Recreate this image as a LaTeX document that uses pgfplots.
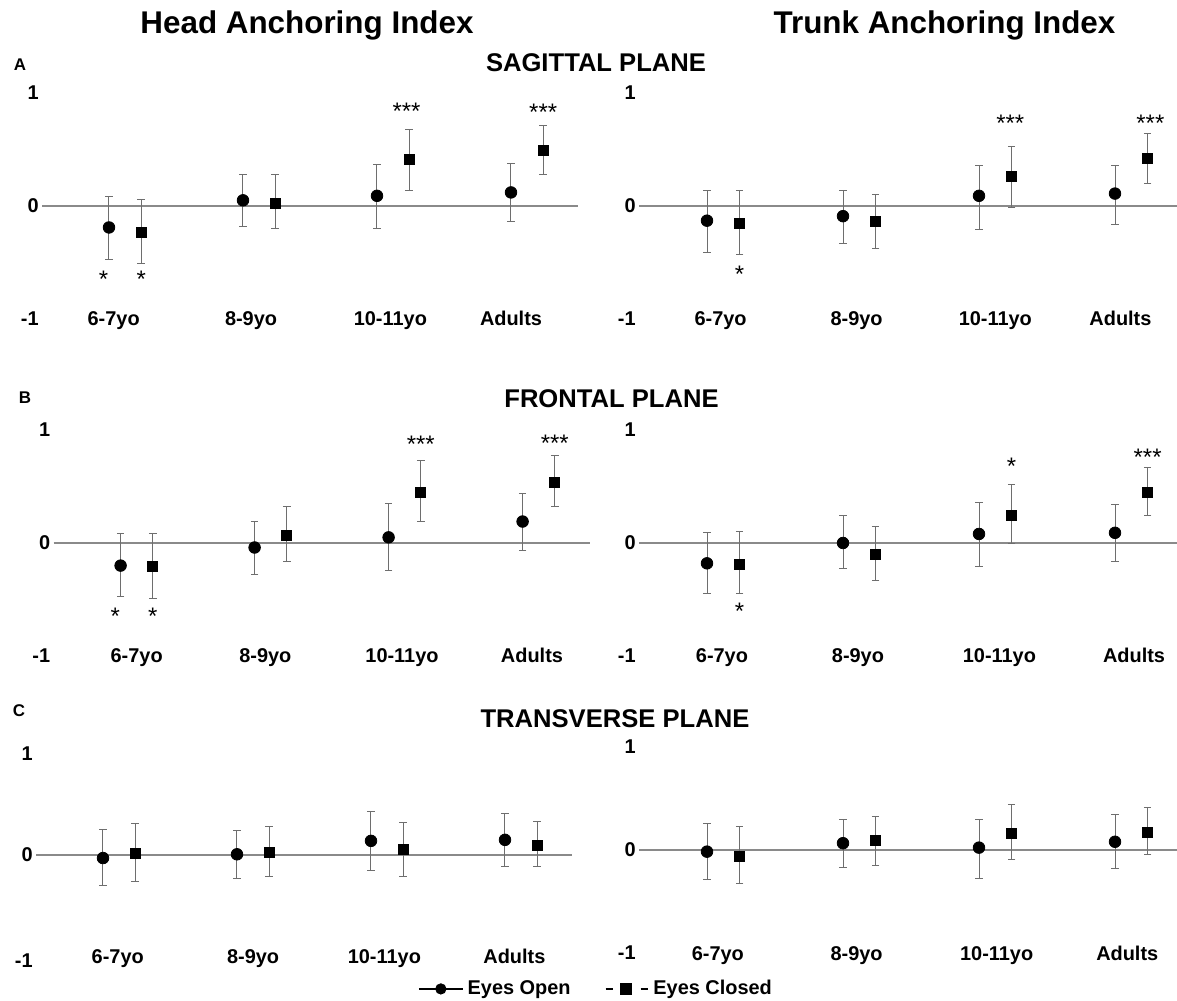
\documentclass[border=0pt]{standalone}
\usepackage{pgfplots}
\pgfplotsset{compat=1.18}
\usepackage{pgfplotstable}
\usepackage{fontspec}
\setmainfont{Liberation Sans}
\definecolor{errgray}{HTML}{6E6E6E}
\definecolor{zerogray}{HTML}{8A8A8A}

% columns: x position, mean, lower end, upper end of error bar
\pgfplotstableread{
x y lo hi
1 -0.19 -0.47 0.08
2 0.05 -0.18 0.28
3 0.09 -0.20 0.37
4 0.12 -0.14 0.38
}\ALo
\pgfplotstableread{
x y lo hi
1.24 -0.23 -0.51 0.06
2.24 0.02 -0.20 0.28
3.24 0.41 0.14 0.68
4.24 0.49 0.28 0.71
}\ALc
\pgfplotstableread{
x y lo hi
1 -0.13 -0.41 0.135
2 -0.09 -0.33 0.135
3 0.09 -0.21 0.36
4 0.11 -0.16 0.36
}\ARo
\pgfplotstableread{
x y lo hi
1.24 -0.15 -0.43 0.135
2.24 -0.14 -0.38 0.10
3.24 0.26 -0.01 0.53
4.24 0.42 0.20 0.64
}\ARc
\pgfplotstableread{
x y lo hi
1 -0.20 -0.47 0.08
2 -0.04 -0.28 0.19
3 0.05 -0.24 0.35
4 0.19 -0.07 0.44
}\BLo
\pgfplotstableread{
x y lo hi
1.24 -0.21 -0.49 0.08
2.24 0.07 -0.16 0.32
3.24 0.45 0.19 0.73
4.24 0.54 0.32 0.77
}\BLc
\pgfplotstableread{
x y lo hi
1 -0.18 -0.45 0.09
2 0.00 -0.23 0.24
3 0.08 -0.21 0.36
4 0.09 -0.16 0.34
}\BRo
\pgfplotstableread{
x y lo hi
1.24 -0.19 -0.45 0.10
2.24 -0.10 -0.33 0.15
3.24 0.245 -0.005 0.52
4.24 0.45 0.24 0.67
}\BRc
\pgfplotstableread{
x y lo hi
1 -0.03 -0.30 0.25
2 0.007 -0.23 0.24
3 0.14 -0.15 0.43
4 0.15 -0.11 0.41
}\CLo
\pgfplotstableread{
x y lo hi
1.24 0.016 -0.26 0.31
2.24 0.03 -0.21 0.28
3.24 0.056 -0.21 0.32
4.24 0.10 -0.11 0.33
}\CLc
\pgfplotstableread{
x y lo hi
1 -0.016 -0.29 0.26
2 0.066 -0.17 0.30
3 0.023 -0.275 0.30
4 0.08 -0.18 0.34
}\CRo
\pgfplotstableread{
x y lo hi
1.24 -0.06 -0.33 0.23
2.24 0.09 -0.15 0.33
3.24 0.16 -0.09 0.44
4.24 0.17 -0.046 0.41
}\CRc

\tikzset{sig/.style={font=\fontsize{12}{14}\selectfont, inner sep=0pt, yshift=-0.6bp}}
\pgfplotsset{
  panel/.style={
    scale only axis, clip=false, anchor=south west,
    xmin=0.5, xmax=4.5, ymin=-1, ymax=1,
    axis line style={draw=none},
    tick style={draw=none}, major tick length=0pt,
    ytick={-1,0,1}, yticklabels={-1,0,1},
    xticklabels={6-7yo,8-9yo,10-11yo,Adults},
    ticklabel style={font=\bfseries\fontsize{10}{12}\selectfont},
    xticklabel style={anchor=base, yshift=-3.5bp},
    yticklabel style={anchor=east, inner sep=0pt, xshift=-1.5bp},
  },
  ebar/.style={
    /pgfplots/error bars/y dir=both, /pgfplots/error bars/y explicit,
    /pgfplots/error bars/error bar style={line width=0.5bp, errgray},
    /pgfplots/error bars/error mark options={rotate=90, mark size=1.9bp, line width=0.5bp, errgray},
  },
  circ/.style={only marks, mark=*, mark size=2.9bp, black, ebar},
  sqr/.style={only marks, mark=square*, mark size=2.5bp, black, ebar},
  zl/.style={draw=zerogray, line width=0.75bp, forget plot},
}
\newcommand{\pts}[2]{%
  \addplot[zl] coordinates {(0.5,0) (4.5,0)};
  \addplot[forget plot, circ] table[x=x, y=y, y error plus expr=\thisrow{hi}-\thisrow{y}, y error minus expr=\thisrow{y}-\thisrow{lo}] {#1};
  \addplot[forget plot, sqr] table[x=x, y=y, y error plus expr=\thisrow{hi}-\thisrow{y}, y error minus expr=\thisrow{y}-\thisrow{lo}] {#2};
}

\begin{document}
\begin{tikzpicture}
\useasboundingbox (0,0) rectangle (588.5bp,500.5bp);

% column titles
\node[anchor=base, font=\bfseries\fontsize{15.75}{18}\selectfont] at (153.5bp,483.85bp) {Head Anchoring Index};
\node[anchor=base, font=\bfseries\fontsize{15.75}{18}\selectfont] at (472.25bp,483.85bp) {Trunk Anchoring Index};
% row titles
\node[anchor=base, font=\bfseries\fontsize{8.5}{10}\selectfont] at (10bp,465bp) {A};
\node[anchor=base, font=\bfseries\fontsize{12.85}{15}\selectfont] at (298bp,464.9bp) {SAGITTAL PLANE};
\node[anchor=base, font=\bfseries\fontsize{8.5}{10}\selectfont] at (12.5bp,298.5bp) {B};
\node[anchor=base, font=\bfseries\fontsize{12.85}{15}\selectfont] at (305.75bp,296.9bp) {FRONTAL PLANE};
\node[anchor=base, font=\bfseries\fontsize{8.5}{10}\selectfont] at (9.5bp,142bp) {C};
\node[anchor=base, font=\bfseries\fontsize{12.85}{15}\selectfont] at (307.5bp,136.9bp) {TRANSVERSE PLANE};

% A left
\begin{axis}[panel, at={(21bp,341bp)}, width=268bp, height=113bp, xtick={1.035,2.06,3.1,4.0}]
\pts{\ALo}{\ALc}
\node[sig] at (axis cs:0.96,-0.64) {*};
\node[sig] at (axis cs:1.24,-0.64) {*};
\node[sig] at (axis cs:3.22,0.85) {***};
\node[sig] at (axis cs:4.24,0.84) {***};
\end{axis}
% A right
\begin{axis}[panel, at={(319.5bp,341bp)}, width=272bp, height=113bp, xtick={1.1,2.1,3.12,4.04}]
\pts{\ARo}{\ARc}
\node[sig] at (axis cs:1.24,-0.59) {*};
\node[sig] at (axis cs:3.23,0.74) {***};
\node[sig] at (axis cs:4.26,0.74) {***};
\end{axis}
% B left
\begin{axis}[panel, at={(26.8bp,172.5bp)}, width=268bp, height=113bp, xtick={1.12,2.08,3.1,4.07}]
\pts{\BLo}{\BLc}
\node[sig] at (axis cs:0.96,-0.64) {*};
\node[sig] at (axis cs:1.24,-0.64) {*};
\node[sig] at (axis cs:3.24,0.88) {***};
\node[sig] at (axis cs:4.24,0.89) {***};
\end{axis}
% B right
\begin{axis}[panel, at={(319.5bp,172.5bp)}, width=272bp, height=113bp, xtick={1.11,2.11,3.15,4.14}]
\pts{\BRo}{\BRc}
\node[sig] at (axis cs:1.24,-0.59) {*};
\node[sig] at (axis cs:3.24,0.69) {*};
\node[sig] at (axis cs:4.24,0.77) {***};
\end{axis}
% C left
\begin{axis}[panel, at={(18bp,22.5bp)}, width=268bp, height=101bp, xtick={1.11,2.12,3.1,4.07},
  ytick={0,1}, yticklabels={0,1},
  extra y ticks={-1}, extra y tick labels={-1},
  extra y tick style={yticklabel style={yshift=-2.5bp}},
  legend style={at={(1.0466,-0.163)}, anchor=center, draw=none, fill=none,
    legend columns=2, font=\bfseries\fontsize{10}{12}\selectfont,
    /tikz/every even column/.append style={column sep=15bp}},
  legend cell align=left]
\pts{\CLo}{\CLc}
\addlegendimage{legend image code/.code={\draw[black,line width=0.8bp] (0bp,0bp)--(22bp,0bp); \fill[black] (11bp,0bp) circle (2.6bp);}}
\addlegendentry{Eyes Open}
\addlegendimage{legend image code/.code={\draw[black,line width=0.9bp,dash pattern=on 3.5bp off 14bp] (0bp,0bp)--(21.5bp,0bp); \fill[black] (7.6bp,-2.6bp) rectangle (12.9bp,2.6bp);}}
\addlegendentry{Eyes Closed}
\end{axis}
% C right
\begin{axis}[panel, at={(319.5bp,24bp)}, width=272bp, height=103bp, xtick={1.08,2.1,3.13,4.09}]
\pts{\CRo}{\CRc}
\end{axis}
\end{tikzpicture}
\end{document}
